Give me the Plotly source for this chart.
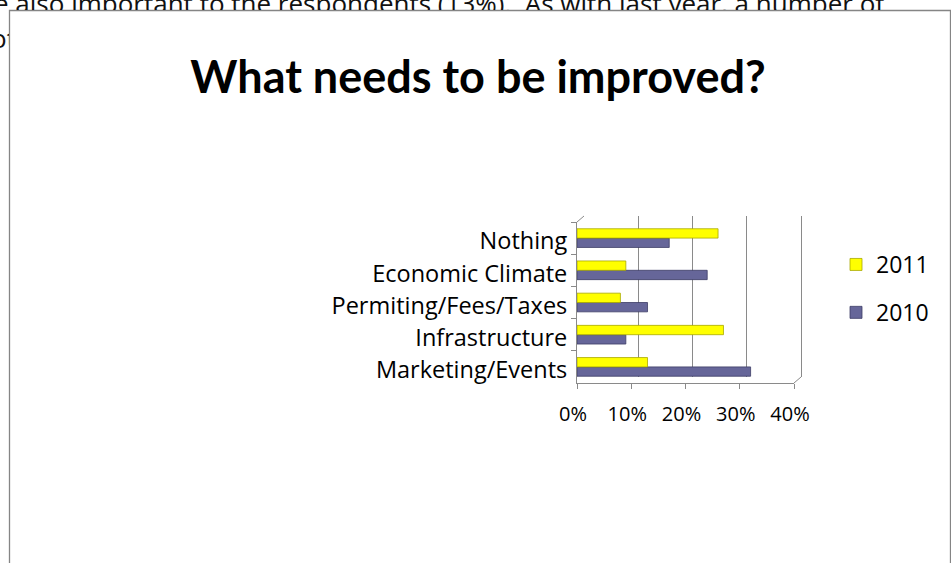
import plotly.graph_objects as go

W, H = 951, 563

# ---- data ----
categories = ["Marketing/Events", "Infrastructure", "Permiting/Fees/Taxes",
              "Economic Climate", "Nothing"]
values_2011 = [13, 27, 8, 9, 26]
values_2010 = [32, 9, 13, 24, 17]
series_names = ["2010", "2011"]
x_tick_step = 10
x_max = 40
title_text = "What needs to be improved?"
bg_line1 = "e also important to the respondents (13%).  As with last year, a number of"
bg_line2 = "other"

FONT = "Open Sans"
GRID = "#8a8a8a"

# geometry (pixels)
FRONT_L, FRONT_R, FRONT_T, FRONT_B = 577, 794, 222, 383
DX, DY = 7, 6   # depth offset of back wall
EDGE_PAD = 1.005  # lets the grid line at the last tick be drawn


def px_x(p):
    return p / W


def px_y(p):
    return 1 - p / H


fig = go.Figure()

# empty trace so the back-wall grid subplot (x/y) is drawn
fig.add_trace(go.Scatter(x=[None], y=[None], xaxis="x", yaxis="y",
                         showlegend=False, hoverinfo="skip"))

# bars (front subplot x2/y2)
fig.add_trace(go.Bar(
    y=categories, x=values_2010, name=series_names[0], orientation="h",
    marker=dict(color="#666699", line=dict(color="#3c3c66", width=0.8)),
    xaxis="x2", yaxis="y2", legendgroup="a", legendrank=2,
))
fig.add_trace(go.Bar(
    y=categories, x=values_2011, name=series_names[1], orientation="h",
    marker=dict(color="#ffff00", line=dict(color="#a8a800", width=0.8)),
    xaxis="x2", yaxis="y2", legendgroup="b", legendrank=1,
))

# background document text, clipped by small subplots
fig.add_trace(go.Scatter(
    x=[-6], y=[6.2], mode="text", text=[bg_line1], textposition="middle right",
    textfont=dict(family=FONT, size=26, color="#111111"),
    xaxis="x3", yaxis="y3", showlegend=False, hoverinfo="skip", cliponaxis=True,
))
fig.add_trace(go.Scatter(
    x=[-9], y=[41.5], mode="text", text=[bg_line2], textposition="middle right",
    textfont=dict(family=FONT, size=26, color="#111111"),
    xaxis="x4", yaxis="y4", showlegend=False, hoverinfo="skip", cliponaxis=True,
))

common_axis = dict(automargin=False, fixedrange=True)
back_w = (FRONT_R - FRONT_L) * EDGE_PAD

fig.update_layout(
    template="none",
    width=W, height=H, autosize=False,
    margin=dict(l=0, r=0, t=0, b=0, pad=0),
    paper_bgcolor="white", plot_bgcolor="rgba(0,0,0,0)",
    font=dict(family=FONT, size=21, color="#000000"),
    barmode="group", bargap=0.42, bargroupgap=0,
    title=dict(text="<b>" + title_text + "</b>", x=px_x(478), xanchor="center",
               y=px_y(77), yanchor="middle",
               font=dict(family="Lato", size=45, color="#000000")),
    showlegend=True,
    legend=dict(x=px_x(836), xanchor="left", y=px_y(243), yanchor="top",
                traceorder="grouped", tracegroupgap=15, borderwidth=0,
                font=dict(family=FONT, size=23), bgcolor="rgba(0,0,0,0)"),
    # back wall grid
    xaxis=dict(domain=[px_x(FRONT_L + DX), px_x(FRONT_L + DX + back_w)],
               range=[0, x_max * EDGE_PAD],
               anchor="y", tickmode="linear", tick0=x_tick_step, dtick=x_tick_step,
               showticklabels=False, ticks="",
               showgrid=True, gridcolor=GRID, gridwidth=1, zeroline=False,
               showline=False, **common_axis),
    yaxis=dict(domain=[px_y(FRONT_B - DY), px_y(FRONT_T - DY)], range=[0, 1],
               anchor="x", showgrid=False, showticklabels=False, zeroline=False,
               showline=False, **common_axis),
    # front axes with bars
    xaxis2=dict(domain=[px_x(FRONT_L), px_x(FRONT_R)], range=[0, x_max], anchor="y2",
                tickmode="linear", tick0=0, dtick=x_tick_step, ticksuffix="%",
                showgrid=False, zeroline=False,
                showline=True, linecolor=GRID, linewidth=1,
                ticks="outside", ticklen=5, tickcolor=GRID,
                ticklabelstandoff=8, ticklabelshift=-4,
                tickfont=dict(family=FONT, size=20), **common_axis),
    yaxis2=dict(domain=[px_y(FRONT_B), px_y(FRONT_T)], anchor="x2", type="category",
                categoryorder="array", categoryarray=categories,
                showgrid=False, zeroline=False, showline=True, linecolor=GRID,
                linewidth=1, ticks="outside", ticklen=5, tickcolor=GRID,
                tickson="boundaries", ticklabelstandoff=4, ticklabelshift=3,
                tickfont=dict(family=FONT, size=23.5), **common_axis),
    # clipping strips for background text
    xaxis3=dict(domain=[0, 1], range=[0, W], anchor="y3", visible=False,
                **common_axis),
    yaxis3=dict(domain=[px_y(10), 1], range=[10, 0], anchor="x3", visible=False,
                **common_axis),
    xaxis4=dict(domain=[0, px_x(9)], range=[0, 9], anchor="y4", visible=False,
                **common_axis),
    yaxis4=dict(domain=[px_y(60), px_y(25)], range=[60, 25], anchor="x4",
                visible=False, **common_axis),
    shapes=[
        dict(type="rect", xref="paper", yref="paper",
             x0=px_x(9.5), x1=px_x(950.5), y0=-0.05, y1=px_y(10.5),
             line=dict(color="#858585", width=1.3), fillcolor="rgba(0,0,0,0)",
             layer="below"),
        # 3D wall edges
        dict(type="line", xref="paper", yref="paper",
             x0=px_x(FRONT_L), y0=px_y(FRONT_T), x1=px_x(FRONT_L + DX), y1=px_y(FRONT_T - DY),
             line=dict(color=GRID, width=1), layer="below"),
        dict(type="line", xref="paper", yref="paper",
             x0=px_x(FRONT_R), y0=px_y(FRONT_B), x1=px_x(FRONT_R + DX), y1=px_y(FRONT_B - DY),
             line=dict(color=GRID, width=1), layer="below"),
    ],
)

fig.write_html(
    "out.html",
    config=dict(displayModeBar=False, responsive=False),
    post_script="document.body.style.margin='0';document.body.style.overflow='hidden';",
)
